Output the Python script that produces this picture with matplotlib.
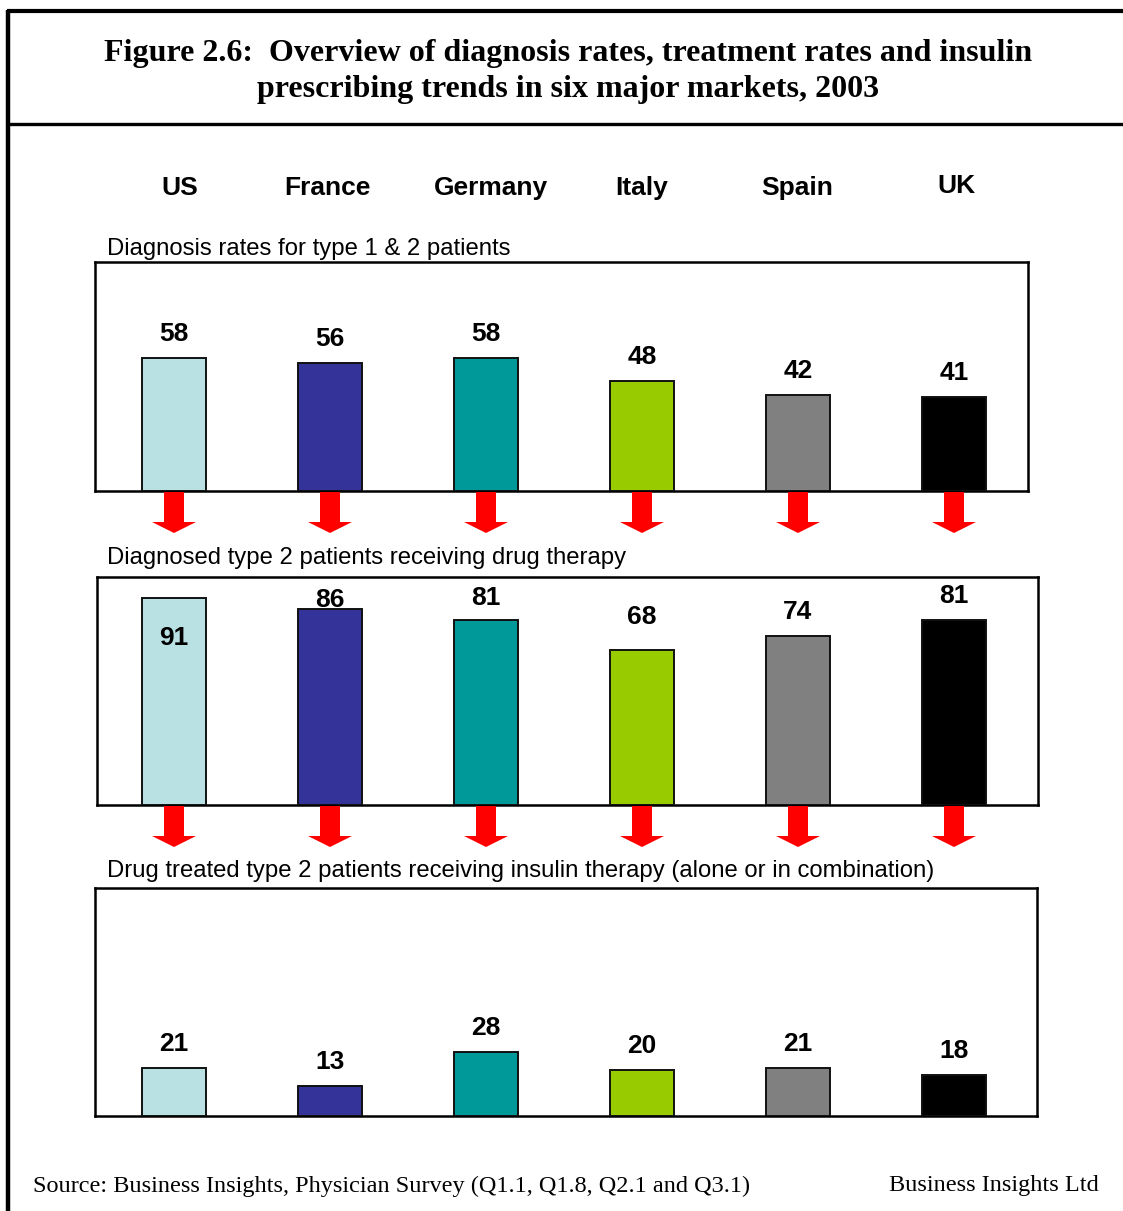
import matplotlib.pyplot as plt
from matplotlib.patches import Polygon

# market data, 2003 (% of patients)
countries = ["US", "France", "Germany", "Italy", "Spain", "UK"]
diagnosis_rate = [58, 56, 58, 48, 42, 41]
drug_therapy_rate = [91, 86, 81, 68, 74, 81]
insulin_rate = [21, 13, 28, 20, 21, 18]

bar_colors = ["#B9E0E3", "#333399", "#009999", "#99CC00", "#808080", "#000000"]

panel_titles = [
    "Diagnosis rates for type 1 & 2 patients",
    "Diagnosed type 2 patients receiving drug therapy",
    "Drug treated type 2 patients receiving insulin therapy (alone or in combination)",
]

W, H = 1123, 1211
fig = plt.figure(figsize=(W / 100, H / 100), dpi=100)

sans = "Liberation Sans"
serif = "Liberation Serif"

# full-figure overlay in pixel units for frame and headings
bg = fig.add_axes([0, 0, 1, 1])
bg.set_xlim(0, W)
bg.set_ylim(H, 0)
bg.axis("off")

bg.plot([8, 8], [10, H], color="black", lw=3.2, solid_capstyle="butt")
bg.plot([6.5, W], [10.5, 10.5], color="black", lw=3, solid_capstyle="butt")
bg.plot([8, W], [123.5, 123.5], color="black", lw=2.4, solid_capstyle="butt")

bg.text(568, 53, "Figure 2.6:  Overview of diagnosis rates, treatment rates and insulin",
        ha="center", va="center", fontsize=23, fontweight="bold", family=serif)
bg.text(568, 90, "prescribing trends in six major markets, 2003",
        ha="center", va="center", fontsize=23, fontweight="bold", family=serif)

header_x = [180, 327, 491, 642, 797, 956]
header_y = [188, 188, 188, 188, 188, 186]
for name, hx, hy in zip(countries, header_x, header_y):
    bg.text(hx, hy, name, ha="center", va="center", fontsize=19,
            fontweight="bold", family=sans)

bg.text(33, 1186, "Source: Business Insights, Physician Survey (Q1.1, Q1.8, Q2.1 and Q3.1)",
        ha="left", va="center", fontsize=17.5, family=serif)
bg.text(1099, 1186, "Business Insights Ltd", ha="right", va="center",
        fontsize=17.5, family=serif)

# panel boxes in pixels: left, top, right, bottom
boxes = [(95, 262, 1028, 491), (97, 577, 1038, 805), (95, 888, 1037, 1116)]
title_y = [249, 558, 871]
series = [diagnosis_rate, drug_therapy_rate, insulin_rate]

# label gap above each bar (px) for the drug therapy panel
therapy_gap = [-40, 9, 22, 33, 24, 24]

x0_px, step_px = 174, 156.0
bar_w = 64 / step_px


def down_arrow(ax, x, px_per_unit):
    shaft = 10 / step_px
    head = 22 / step_px
    top = -1 / px_per_unit
    neck = -31 / px_per_unit
    tip = -42 / px_per_unit
    pts = [(x - shaft, top), (x + shaft, top), (x + shaft, neck), (x + head, neck),
           (x, tip), (x - head, neck), (x - shaft, neck)]
    ax.add_patch(Polygon(pts, closed=True, facecolor="#FF0000", edgecolor="none",
                         clip_on=False, zorder=5))


for i, ((l, t, r, b), values) in enumerate(zip(boxes, series)):
    ax = fig.add_axes([l / W, 1 - b / H, (r - l) / W, (b - t) / H])
    ax.set_xlim(-(x0_px - l) / step_px, (r - x0_px) / step_px)
    ax.set_ylim(0, 100)
    ax.set_xticks([])
    ax.set_yticks([])
    for sp in ax.spines.values():
        sp.set_linewidth(1.8)
        sp.set_color("black")
    xs = list(range(len(values)))
    ax.bar(xs, values, width=bar_w, color=bar_colors, edgecolor="#111111",
           linewidth=1.4, zorder=3)

    px_per_unit = (b - t) / 100.0
    for x, v in zip(xs, values):
        gap = therapy_gap[x] if i == 1 else 24
        ty = v + gap / px_per_unit
        ax.text(x, ty, str(v), ha="center", va="center", fontsize=19,
                fontweight="bold", family=sans, zorder=6)
        if i < 2:
            down_arrow(ax, x, px_per_unit)

    bg.text(107, title_y[i], panel_titles[i], ha="left", va="center",
            fontsize=17.2, family=sans)

fig.savefig("out.png", dpi=100)
